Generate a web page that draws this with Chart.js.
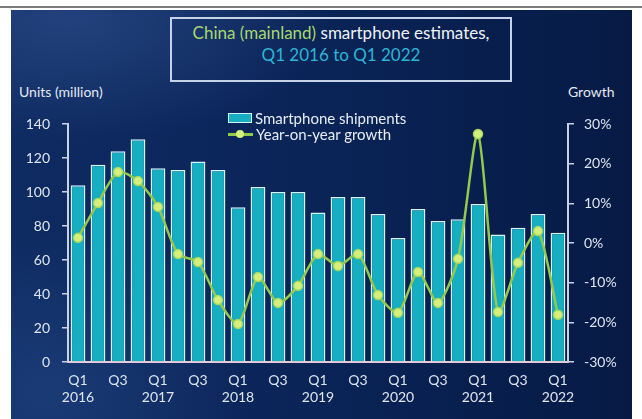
<!DOCTYPE html>
<html>
<head>
<meta charset="utf-8">
<script src="https://cdn.jsdelivr.net/npm/chart.js@4/dist/chart.umd.min.js"></script>
<style>
  body { margin: 0; background: #fff; font-family: Lato, "Noto Sans", sans-serif; }
  #wrap { position: relative; width: 642px; height: 419px; overflow: hidden; }
  #topline { position: absolute; left: 0; top: 6px; width: 642px; height: 2px; background: #7c7c7c; }
  #panel {
    position: absolute; left: 11px; top: 10px; width: 621px; height: 409px;
    background:
      radial-gradient(ellipse 260px 120px at 60px 10px, rgba(60,95,160,0.45), rgba(60,95,160,0) 100%),
      radial-gradient(ellipse 200px 160px at 40px 380px, rgba(50,90,160,0.35), rgba(50,90,160,0) 100%),
      linear-gradient(90deg, #0e2b62 0%, #0a2457 50%, #061a45 100%);
  }
  #titlebox {
    position: absolute; left: 170px; top: 17px; width: 338px; height: 58px;
    border: 2px solid #c5d2e8; text-align: center; font-size: 17px; line-height: 22px;
    padding-top: 3px; box-sizing: content-box;
  }
  .green { color: #a8d86c; }
  .white { color: #eef2f8; }
  .cyan { color: #2db5d6; }
  .axtitle { position: absolute; top: 83px; font-size: 14px; color: #e4e9f2; }
  #legend { position: absolute; left: 228px; top: 110px; font-size: 15px; color: #e8edf5; line-height: 16px; }
  #legend div { display: flex; align-items: center; height: 16px; }
  .box { width: 22px; height: 8px; background: #18aec2; border: 1.5px solid #d5f3fa; margin-right: 3px; }
  .lineicon { position: relative; width: 25px; height: 16px; margin-right: 3px; }
  .lineicon:before { content: ""; position: absolute; left: 0; top: 7px; width: 25px; height: 2.5px; background: #94c94e; }
  .lineicon:after { content: ""; position: absolute; left: 8px; top: 4px; width: 8px; height: 8px; border-radius: 50%; background: #d6ef7c; }
  canvas { position: absolute; left: 0; top: 0; }
</style>
</head>
<body>
<div id="wrap">
  <div id="topline"></div>
  <div id="panel"></div>
  <div id="titlebox">
    <span class="green">China (mainland)</span><span class="white"> smartphone estimates,</span><br>
    <span class="cyan">Q1 2016 to Q1 2022</span>
  </div>
  <div class="axtitle" style="left:19px">Units (million)</div>
  <div class="axtitle" style="left:568px">Growth</div>
  <canvas id="chart" width="642" height="419"></canvas>
  <div id="legend">
    <div><span class="box"></span>Smartphone shipments</div>
    <div><span class="lineicon"></span>Year-on-year growth</div>
  </div>
</div>
<script>
// Quarters, Q1 2016 to Q1 2022
const categories = [
  'Q1 2016', 'Q2 2016', 'Q3 2016', 'Q4 2016',
  'Q1 2017', 'Q2 2017', 'Q3 2017', 'Q4 2017',
  'Q1 2018', 'Q2 2018', 'Q3 2018', 'Q4 2018',
  'Q1 2019', 'Q2 2019', 'Q3 2019', 'Q4 2019',
  'Q1 2020', 'Q2 2020', 'Q3 2020', 'Q4 2020',
  'Q1 2021', 'Q2 2021', 'Q3 2021', 'Q4 2021',
  'Q1 2022'
];

// Shipments in million units
const shipments = [104, 116, 124, 131, 114, 113, 118, 113, 91, 103, 100, 100, 88, 97, 97, 87, 73, 90, 83, 84, 93, 75, 79, 87, 76];

// Year-on-year growth in percent
const growth = [1.3, 10.1, 17.9, 15.6, 9.1, -2.8, -4.8, -14.4, -20.4, -8.6, -15.1, -10.8, -2.8, -5.8, -2.8, -13.1, -17.6, -7.3, -15.1, -4, 27.5, -17.4, -5, 3, -18.1];

// Axis ticks
const unitTicks = [0, 20, 40, 60, 80, 100, 120, 140];
const growthTicks = [-30, -20, -10, 0, 10, 20, 30];

const tickFont = { family: 'Lato', size: 14 };
const tickColor = '#dfe5ef';
const axisColor = '#c9d2e2';

const ctx = document.getElementById('chart').getContext('2d');
const chart = new Chart(ctx, {
  data: {
    labels: categories,
    datasets: [
      {
        type: 'line',
        label: 'Year-on-year growth',
        data: growth,
        yAxisID: 'y2',
        order: 1,
        borderColor: '#94c94e',
        borderWidth: 2.5,
        tension: 0.25,
        pointRadius: 4.5,
        pointBackgroundColor: '#d6ef7c',
        pointBorderColor: '#a6d65e',
        pointBorderWidth: 1.5
      },
      {
        type: 'bar',
        label: 'Smartphone shipments',
        data: shipments,
        yAxisID: 'y',
        order: 2,
        backgroundColor: '#18aec2',
        borderColor: '#d5f3fa',
        borderWidth: 1.5,
        categoryPercentage: 1,
        barPercentage: 0.74
      }
    ]
  },
  options: {
    responsive: false,
    animation: false,
    devicePixelRatio: 1,
    layout: { padding: { top: 124, left: 0, right: 0, bottom: 0 } },
    plugins: { legend: { display: false }, tooltip: { enabled: false } },
    scales: {
      x: {
        grid: { display: false, drawTicks: false },
        border: { color: '#e3cbd8', width: 2 },
        ticks: {
          color: tickColor, font: tickFont, padding: 10,
          autoSkip: false, maxRotation: 0,
          callback: function (value, index) {
            if (index % 2 !== 0) return '';
            const parts = categories[index].split(' ');
            return parts[0] === 'Q1' ? [parts[0], parts[1]] : [parts[0]];
          }
        },
        afterFit: s => { s.height = 57; }
      },
      y: {
        position: 'left',
        min: unitTicks[0],
        max: unitTicks[unitTicks.length - 1],
        grid: { drawOnChartArea: false, drawTicks: true, tickLength: 6, color: axisColor, lineWidth: 1.5 },
        border: { color: axisColor, width: 2 },
        afterBuildTicks: s => { s.ticks = unitTicks.map(v => ({ value: v })); },
        ticks: { color: tickColor, font: tickFont, padding: 12 },
        afterFit: s => { s.width = 68; }
      },
      y2: {
        position: 'right',
        min: growthTicks[0],
        max: growthTicks[growthTicks.length - 1],
        grid: { drawOnChartArea: false, drawTicks: true, tickLength: 6, color: axisColor, lineWidth: 1.5 },
        border: { color: axisColor, width: 2 },
        afterBuildTicks: s => { s.ticks = growthTicks.map(v => ({ value: v })); },
        ticks: { color: tickColor, font: tickFont, padding: 10, callback: v => v + '%' },
        afterFit: s => { s.width = 74; }
      }
    }
  }
});
</script>
</body>
</html>
